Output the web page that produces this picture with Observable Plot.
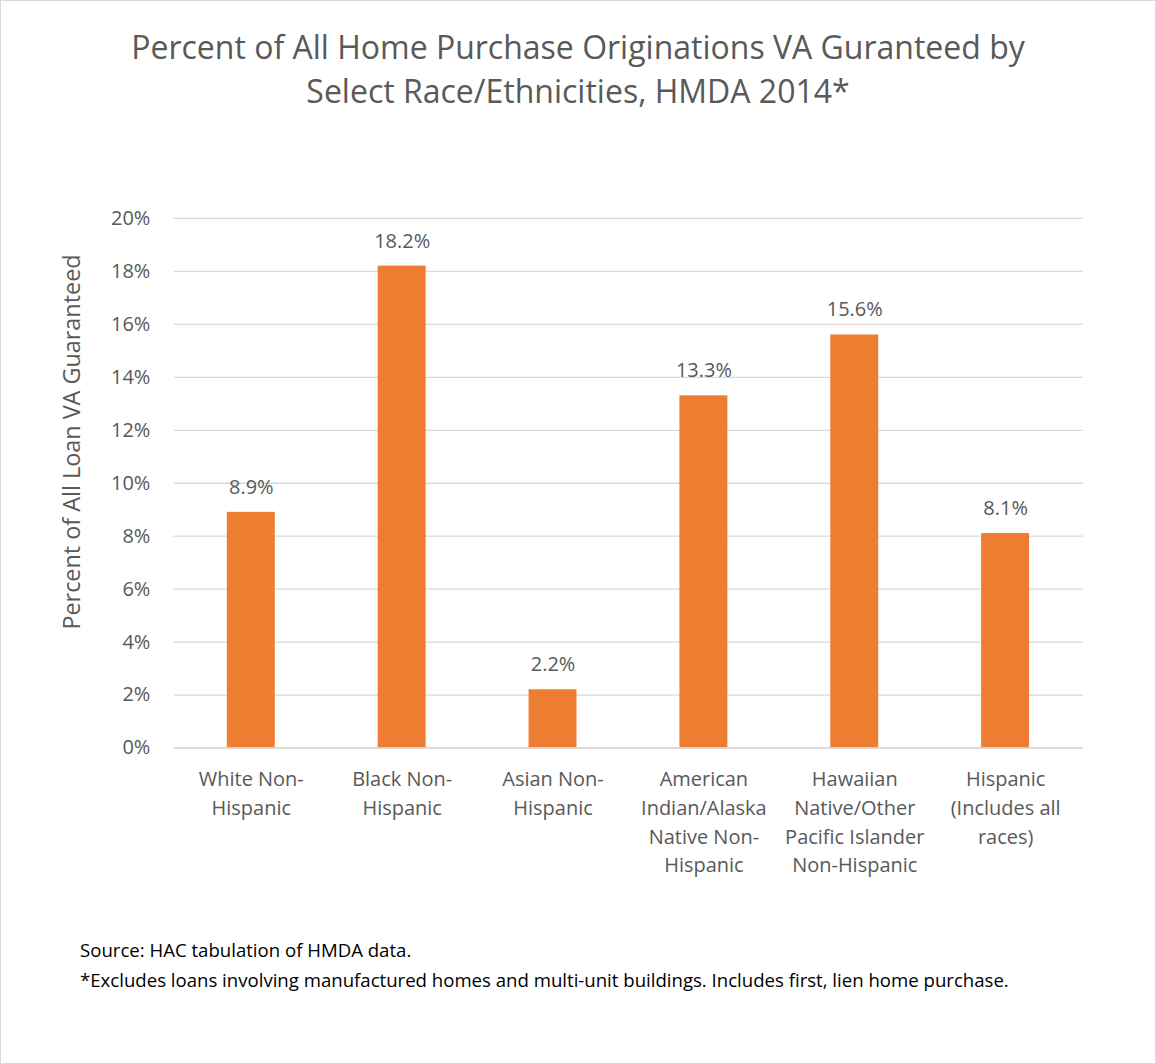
<!DOCTYPE html>
<html>
<head>
<meta charset="utf-8">
<script src="https://cdn.jsdelivr.net/npm/d3@7"></script>
<script src="https://cdn.jsdelivr.net/npm/@observablehq/plot@0.6"></script>
<style>
  html, body { margin: 0; padding: 0; background: #fff; }
  #frame { position: relative; width: 1154px; height: 1062px; border: 1px solid #d9d9d9; background: #fff; overflow: hidden; font-family: "Open Sans", sans-serif; color: #595959; }
  #title { position: absolute; top: 24px; left: 0; width: 1154px; text-align: center; font-size: 32px; line-height: 44px; color: #595959; }
  #ylabel { position: absolute; left: 70px; top: 441px; transform: translate(-50%, -50%) rotate(-90deg); white-space: nowrap; font-size: 23.4px; color: #595959; }
  #chart { position: absolute; left: -1px; top: 189px; }
  #caption { position: absolute; left: 79px; top: 934px; font-size: 18.6px; line-height: 30px; color: #000; }
</style>
</head>
<body>
<div id="frame">
  <div id="title">Percent of All Home Purchase Originations VA Guranteed by<br>Select Race/Ethnicities, HMDA 2014*</div>
  <div id="ylabel">Percent of All Loan VA Guaranteed</div>
  <div id="chart"></div>
  <div id="caption">Source: HAC tabulation of HMDA data.<br>*Excludes loans involving manufactured homes and multi-unit buildings. Includes first, lien home purchase.</div>
</div>
<script>
const categories = [
  "White Non-\nHispanic",
  "Black Non-\nHispanic",
  "Asian Non-\nHispanic",
  "American\nIndian/Alaska\nNative Non-\nHispanic",
  "Hawaiian\nNative/Other\nPacific Islander\nNon-Hispanic",
  "Hispanic\n(Includes all\nraces)"
];
const values = [8.9, 18.2, 2.2, 13.3, 15.6, 8.1];
const yTicks = [0, 2, 4, 6, 8, 10, 12, 14, 16, 18, 20];

const data = categories.map((c, i) => ({category: c, value: values[i]}));

const chart = Plot.plot({
  width: 1156,
  height: 720,
  marginTop: 28,
  marginBottom: 162,
  marginLeft: 174,
  marginRight: 72,
  style: {fontFamily: "Open Sans, sans-serif", fontSize: "20px", color: "#595959", background: "transparent"},
  x: {domain: categories, paddingInner: 0.68, paddingOuter: 0.34, label: null},
  y: {domain: [0, 20], label: null},
  marks: [
    Plot.gridY(yTicks, {stroke: "#d9d9d9", strokeOpacity: 1, strokeWidth: 1.3}),
    Plot.barY(data, {x: "category", y: "value", fill: "#ED7D31"}),
    Plot.ruleY([0], {stroke: "#d9d9d9", strokeWidth: 1.5}),
    Plot.text(data, {x: "category", y: "value", text: d => d.value.toFixed(1) + "%", dy: -25, fill: "#595959", fontSize: 20}),
    Plot.axisY({ticks: yTicks, tickFormat: d => d + "%", tickSize: 0, tickPadding: 24, fontSize: 20, fill: "#595959", label: null}),
    Plot.axisX({tickSize: 0, tickPadding: 17, fontSize: 20, fill: "#595959", lineHeight: 1.45, label: null})
  ]
});
document.getElementById("chart").appendChild(chart);
</script>
</body>
</html>
